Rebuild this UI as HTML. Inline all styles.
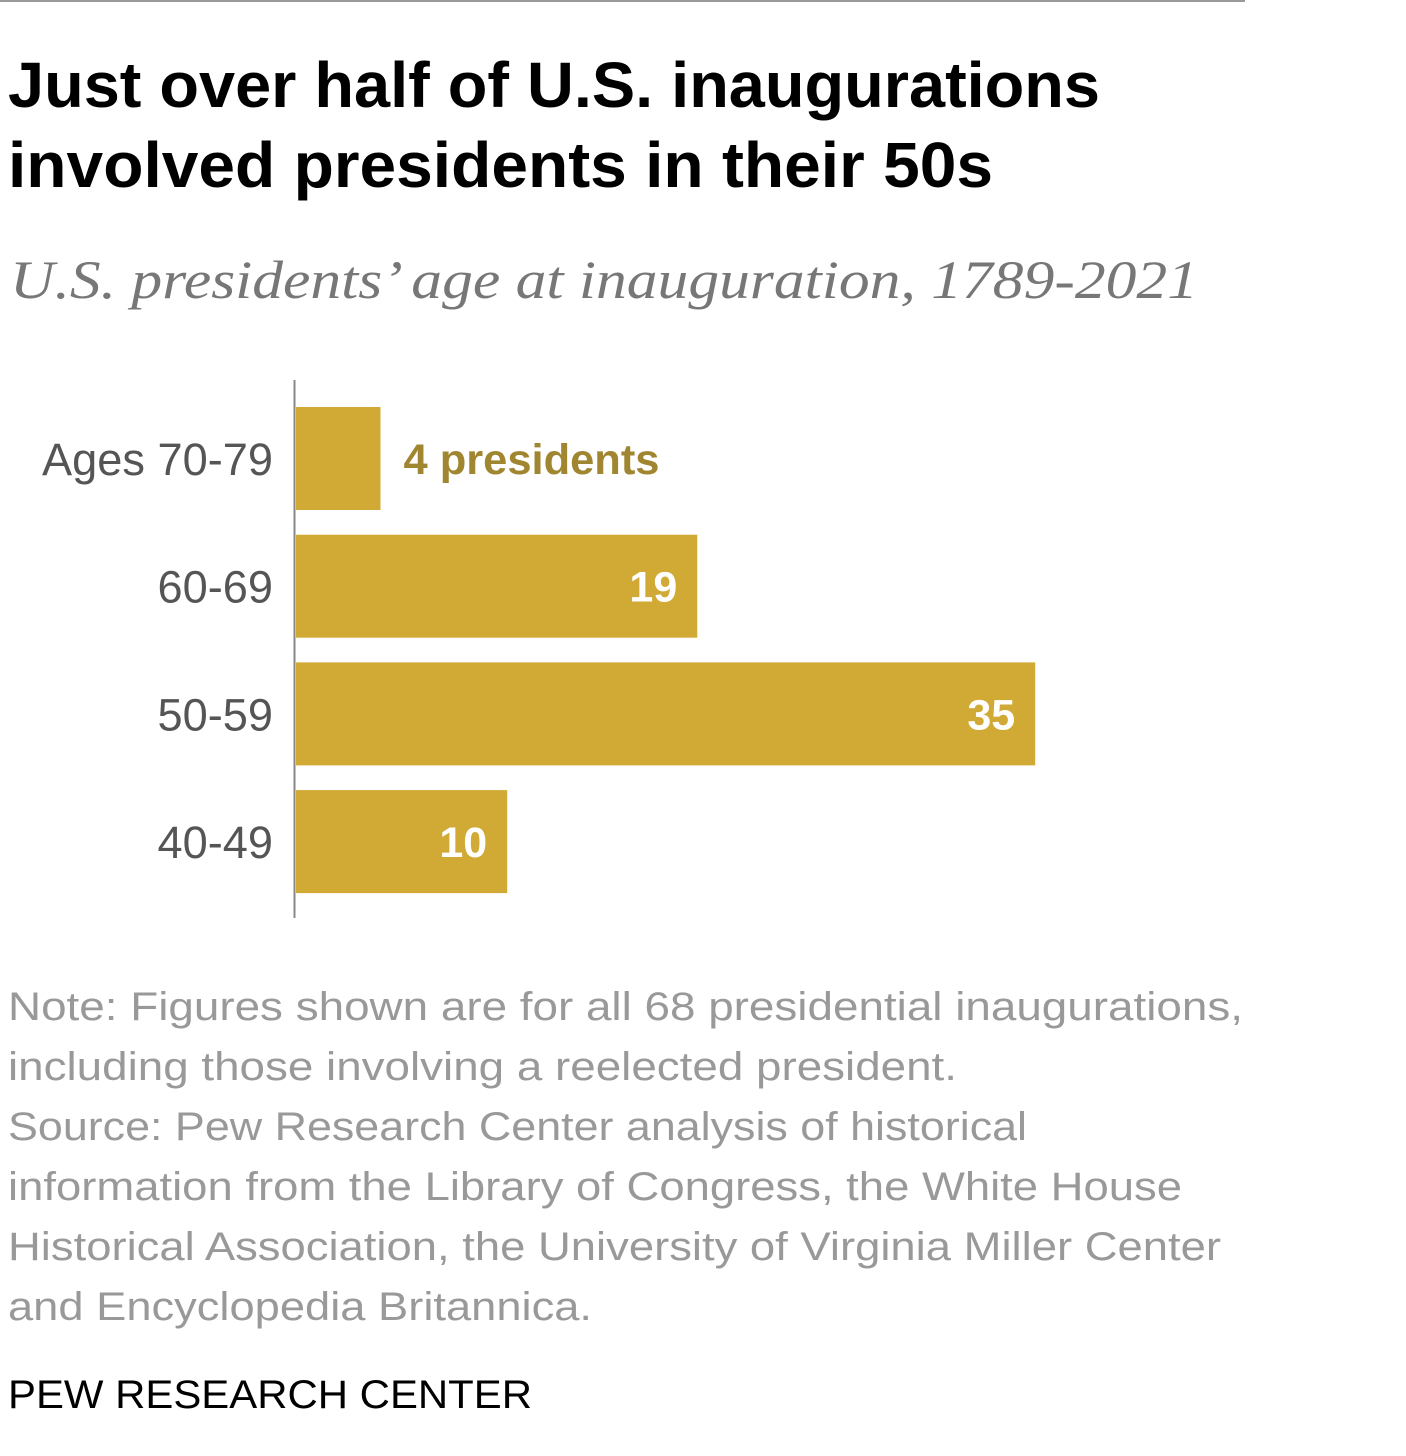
<!DOCTYPE html>
<html><head><meta charset="utf-8"><style>
html,body{margin:0;padding:0;background:#fff;}
svg{display:block;}
</style></head><body>
<svg id="chart" width="1406" height="1456" viewBox="0 0 1406 1456" xmlns="http://www.w3.org/2000/svg">
<line x1="0" y1="1" x2="1245" y2="1" stroke="#999" stroke-width="2"/>
<g font-family="'Liberation Sans Narrow','Liberation Sans',sans-serif" font-weight="bold" font-size="64" fill="#000">
<text x="8" y="107" textLength="1092" lengthAdjust="spacingAndGlyphs">Just over half of U.S. inaugurations</text>
<text x="8" y="187" textLength="985" lengthAdjust="spacingAndGlyphs">involved presidents in their 50s</text>
</g>
<text x="10" y="298" font-family="'Liberation Serif',serif" font-style="italic" font-size="54" fill="#777" textLength="1188" lengthAdjust="spacingAndGlyphs">U.S. presidents’ age at inauguration, 1789-2021</text>
<g id="bars"></g>
<line x1="294.5" y1="380" x2="294.5" y2="918" stroke="#888" stroke-width="2"/>
<g font-family="'Liberation Sans',sans-serif" font-size="40" fill="#999">
<text x="8" y="1020" textLength="1235" lengthAdjust="spacingAndGlyphs">Note: Figures shown are for all 68 presidential inaugurations,</text>
<text x="8" y="1080" textLength="949" lengthAdjust="spacingAndGlyphs">including those involving a reelected president.</text>
<text x="8" y="1140" textLength="1019" lengthAdjust="spacingAndGlyphs">Source: Pew Research Center analysis of historical</text>
<text x="8" y="1200" textLength="1174" lengthAdjust="spacingAndGlyphs">information from the Library of Congress, the White House</text>
<text x="8" y="1260" textLength="1213" lengthAdjust="spacingAndGlyphs">Historical Association, the University of Virginia Miller Center</text>
<text x="8" y="1320" textLength="584" lengthAdjust="spacingAndGlyphs">and Encyclopedia Britannica.</text>
</g>
<text x="8" y="1408" font-family="'Liberation Sans',sans-serif" font-size="40" fill="#000" textLength="524" lengthAdjust="spacingAndGlyphs">PEW RESEARCH CENTER</text>
</svg>
<script>
const categories = ["Ages 70-79", "60-69", "50-59", "40-49"];
const values = [4, 19, 35, 10];
const valueLabels = ["4 presidents", "19", "35", "10"];

const NS = "http://www.w3.org/2000/svg";
const x0 = 296, pxPerUnit = 21.12;
const xScale = v => x0 + v * pxPerUnit;
const yTop = i => 407 + i * 127.7;
const barH = 103;
const g = document.getElementById("bars");
categories.forEach((c, i) => {
  const y = yTop(i), xe = xScale(values[i]);
  const r = document.createElementNS(NS, "rect");
  r.setAttribute("x", x0); r.setAttribute("y", y);
  r.setAttribute("width", xe - x0); r.setAttribute("height", barH);
  r.setAttribute("fill", "#d1a935");
  
  
  g.appendChild(r);
  const lab = document.createElementNS(NS, "text");
  lab.setAttribute("x", 273); lab.setAttribute("y", y + 68);
  lab.setAttribute("text-anchor", "end");
  lab.setAttribute("font-family", "'Liberation Sans',sans-serif");
  lab.setAttribute("font-size", "45"); lab.setAttribute("fill", "#555");
  lab.setAttribute("textLength", c.length * 23.1);
  lab.setAttribute("lengthAdjust", "spacingAndGlyphs");
  lab.textContent = c;
  
  
  g.appendChild(lab);
  const v = document.createElementNS(NS, "text");
  const outside = (xe - x0) < 120;
  v.setAttribute("y", y + 67);
  v.setAttribute("font-family", "'Liberation Sans',sans-serif");
  v.setAttribute("font-weight", "bold"); v.setAttribute("font-size", "43");
  if (outside) {
    v.setAttribute("x", xe + 23); v.setAttribute("fill", "#a08630");
    v.setAttribute("textLength", "256");
    v.setAttribute("lengthAdjust", "spacingAndGlyphs");
  } else {
    v.setAttribute("x", xe - 20); v.setAttribute("text-anchor", "end"); v.setAttribute("fill", "#fff");
  }
  v.textContent = valueLabels[i];
  
  
  g.appendChild(v);
});
</script>
</body></html>
